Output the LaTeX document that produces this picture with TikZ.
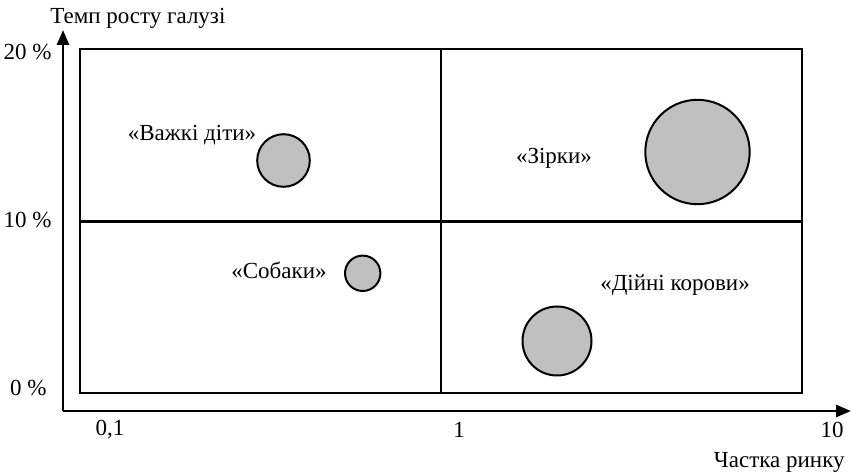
\documentclass[tikz,border=0pt]{standalone}
\usepackage{fontspec}
\setmainfont{Liberation Serif}
\usetikzlibrary{arrows.meta}
\definecolor{bubblegray}{HTML}{C0C0C0}
\tikzset{
    axis/.style={line width=1.4pt, -{Triangle[length=7.5pt,width=6pt]}},
    frame/.style={line width=1.1pt},
    bubble/.style={circle, draw, line width=1pt, fill=bubblegray, inner sep=0pt},
    lbl/.style={inner sep=0pt, font=\fontsize{11.5}{13}\selectfont}
}
\begin{document}
\begin{tikzpicture}[x=0.5pt, y=-0.5pt]
        \useasboundingbox (0,0) rectangle (851,474);

        %%%%%%%%%% Assi %%%%%%%%%%
        \coordinate (origin) at (63,411);
        \coordinate (ytip) at (63,30);
        \coordinate (xtip) at (851,411);
        \draw[axis] (origin) -- (ytip);
        \draw[axis] (origin) -- (xtip);

        %%%%%%%%% Riquadro %%%%%%%%
        \draw[frame] (80,49) rectangle (802,393);
        \draw[frame] (441,49) -- (441,393);
        \draw[frame] (80,221.5) -- (802,221.5);

        %%%%%%%%% Numeri %%%%%%%%%
        \node[lbl, anchor=east] (y20) at (52,52) {20 \%};
        \node[lbl, anchor=east] (y10) at (52,220) {10 \%};
        \node[lbl, anchor=east] (y0) at (47,388) {0 \%};
        \node[lbl] (x01) at (110,430) {0,1};
        \node[lbl] (x1) at (459,430) {1};
        \node[lbl] (x10) at (832,430) {10};

        %%%%%%%%% Cerchi %%%%%%%%%
        \node[bubble, minimum size=26.3pt] (kids) at (283.5,160.5) {};
        \node[bubble, minimum size=52.2pt] (stars) at (697.5,152) {};
        \node[bubble, minimum size=17.7pt] (dogs) at (362.7,273.3) {};
        \node[bubble, minimum size=34.5pt] (cows) at (557,341) {};

        %%%%%%%% Legenda %%%%%%%%%
        \node[lbl, anchor=base west] (ytitle) at (50,24) {Темп росту галузі};
        \node[lbl, anchor=base east] (xtitle) at (845,468) {Частка ринку};
        \node[lbl] (tkids) at (192,135) {«Важкі діти»};
        \node[lbl] (tstars) at (554,158) {«Зірки»};
        \node[lbl] (tdogs) at (279,270) {«Собаки»};
        \node[lbl] (tcows) at (675,285) {«Дійні корови»};
\end{tikzpicture}
\end{document}
